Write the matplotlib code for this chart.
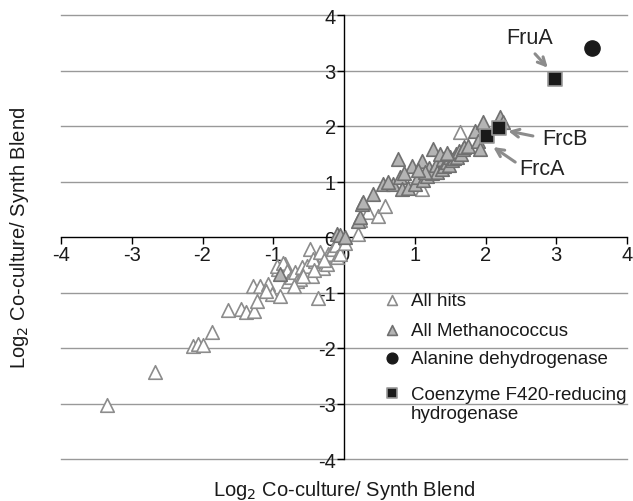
import matplotlib
matplotlib.use("Agg")
import matplotlib.pyplot as plt

plt.rcParams['font.family'] = ['Liberation Sans', 'DejaVu Sans']

# All hits (white triangles)
hits_x = [-3.35, -2.67, -2.13, -2.07, -2.00, -1.87, -1.64, -1.46, -1.38, -1.27,
          -1.23, -1.29, -1.19, -1.07, -1.02, -0.90, -1.10, -0.93, -0.83, -0.95,
          -0.86, -0.81, -0.79, -0.75, -0.69, -0.66, -0.62, -0.60, -0.55, -0.52,
          -0.48, -0.45, -0.41, -0.44, -0.37, -0.34, -0.30, -0.24, -0.23, -0.20,
          -0.16, -0.12, -0.10, -0.06, 0.02, 0.20, 0.23, 0.34, 0.48, 0.58,
          1.10, 1.64, -0.70, -0.58, -0.42, -0.28]
hits_y = [-3.03, -2.43, -1.97, -1.92, -1.95, -1.72, -1.32, -1.29, -1.35, -1.33,
          -1.15, -0.88, -0.88, -0.85, -1.03, -1.06, -0.98, -0.58, -0.49, -0.52,
          -0.46, -0.61, -0.79, -0.72, -0.63, -0.79, -0.75, -0.54, -0.65, -0.52,
          -0.22, -0.70, -0.43, -0.40, -1.10, -0.27, -0.55, -0.49, -0.31, -0.30,
          -0.22, -0.15, -0.36, -0.31, -0.10, 0.05, 0.30, 0.45, 0.38, 0.56,
          0.86, 1.89, -0.88, -0.70, -0.60, -0.42]

# All Methanococcus (grey triangles)
meth_x = [-0.90, -0.10, -0.05, 0.01, 0.20, 0.23, 0.25, 0.27, 0.41, 0.55,
          0.69, 0.76, 0.79, 0.82, 0.91, 0.96, 1.00, 1.05, 1.10, 1.12,
          1.18, 1.20, 1.26, 1.25, 1.30, 1.32, 1.38, 1.40, 1.42, 1.45,
          1.48, 1.50, 1.52, 1.55, 1.58, 1.60, 1.63, 1.65, 1.68, 1.70,
          1.75, 1.35, 1.45, 1.85, 1.90, 1.92, 1.96, 2.20, 2.25, 0.85,
          0.62, 1.15, 1.05]
meth_y = [-0.67, 0.05, 0.03, 0.00, 0.29, 0.36, 0.60, 0.63, 0.77, 0.95,
          0.95, 1.41, 1.08, 0.86, 0.88, 1.28, 0.95, 1.08, 1.37, 1.02,
          1.10, 1.25, 1.59, 1.15, 1.30, 1.18, 1.22, 1.40, 1.28, 1.35,
          1.30, 1.45, 1.38, 1.42, 1.50, 1.45, 1.55, 1.50, 1.58, 1.62,
          1.64, 1.50, 1.52, 1.91, 1.73, 1.59, 2.07, 2.16, 2.07, 1.15,
          1.00, 1.18, 1.20]

# Alanine dehydrogenase
ala_x = [3.51]
ala_y = [3.41]

# Coenzyme F420-reducing hydrogenase (FrcA, FrcB, FruA)
frc_x = [2.02, 2.19, 2.98]
frc_y = [1.82, 1.96, 2.85]
frc_names = ["FrcA", "FrcB", "FruA"]

legend_labels = ["All hits", "All Methanococcus", "Alanine dehydrogenase",
                 "Coenzyme F420-reducing\nhydrogenase"]

ticks = [-4, -3, -2, -1, 0, 1, 2, 3, 4]

W, H = 633, 502
fig = plt.figure(figsize=(W / 100, H / 100), dpi=100)
ax = fig.add_axes([61/W, 42/H, 566/W, 444/H])
ax.set_xlim(-4, 4)
ax.set_ylim(-4, 4)

for t in ticks:
    if t != 0:
        ax.axhline(t, color='#999999', lw=1.0, zorder=0, clip_on=False)

ax.spines['left'].set_position(('data', 0))
ax.spines['bottom'].set_position(('data', 0))
ax.spines['top'].set_visible(False)
ax.spines['right'].set_visible(False)
for s in ('left', 'bottom'):
    ax.spines[s].set_color('black')
    ax.spines[s].set_linewidth(1.0)

ax.set_xticks(ticks)
ax.set_yticks(ticks)
ax.set_xticklabels([str(t) for t in ticks])
ax.set_yticklabels([str(t) for t in ticks])
ax.tick_params(axis='both', direction='out', length=5, width=1, labelsize=14.5,
               color='black', pad=1, labelcolor='#1a1a1a')

style_hits = dict(marker='^', facecolor='white', edgecolor='#8c8c8c', linewidth=1.2)
style_meth = dict(marker='^', facecolor='#b4b4b4', edgecolor='#707070', linewidth=1.2)
style_ala = dict(marker='o', facecolor='#1a1a1a', edgecolor='#1a1a1a', linewidth=1.0)
style_frc = dict(marker='s', facecolor='#1a1a1a', edgecolor='#999999', linewidth=1.2)

ax.scatter(hits_x, hits_y, s=95, zorder=3, **style_hits)
ax.scatter(meth_x, meth_y, s=95, zorder=4, **style_meth)
ax.scatter(ala_x, ala_y, s=120, zorder=5, **style_ala)
ax.scatter(frc_x, frc_y, s=105, zorder=5, **style_frc)

# annotations
text_pos = {"FrcA": (2.80, 1.24), "FrcB": (3.12, 1.78), "FruA": (2.63, 3.59)}
arrow_tail = {"FrcA": (2.42, 1.35), "FrcB": (2.67, 1.82), "FruA": (2.70, 3.30)}
arrow_head = {"FrcA": (2.11, 1.62), "FrcB": (2.32, 1.91), "FruA": (2.88, 3.05)}
for n in frc_names:
    ax.text(*text_pos[n], n, fontsize=15.5, ha='center', va='center', color='#222222')
    ax.annotate('', xy=arrow_head[n], xytext=arrow_tail[n],
                arrowprops=dict(arrowstyle='->', color='#8c8c8c', lw=2.2,
                                mutation_scale=14, shrinkA=0, shrinkB=0))

# manual legend (pixel positions converted to axes coords)
def axc(px, py):
    return ((px - 61) / 566, (460 - py) / 444)

leg_rows = [301, 331, 359, 394]
leg_styles = [(style_hits, 50), (style_meth, 50), (style_ala, 60), (style_frc, 50)]
for lab, py, (st, sz) in zip(legend_labels, leg_rows, leg_styles):
    mx, my = axc(392, py)
    ax.scatter([mx], [my], s=sz, transform=ax.transAxes, clip_on=False, zorder=6, **st)
    if '\n' in lab:
        tx, ty = axc(411, py + 11)
        ax.text(tx, ty, lab, transform=ax.transAxes, fontsize=13.5, ha='left',
                va='center', linespacing=1.2, color='#1a1a1a')
    else:
        tx, ty = axc(411, py)
        ax.text(tx, ty, lab, transform=ax.transAxes, fontsize=13.5, ha='left',
                va='center', color='#1a1a1a')

fig.text(20/W, 1 - 238/H, r'Log$_2$ Co-culture/ Synth Blend', rotation=90,
         ha='center', va='center', fontsize=14.5, color='#1a1a1a')
fig.text(344/W, 1 - 491/H, r'Log$_2$ Co-culture/ Synth Blend',
         ha='center', va='center', fontsize=14.5, color='#1a1a1a')

fig.savefig('out.png', dpi=100)
